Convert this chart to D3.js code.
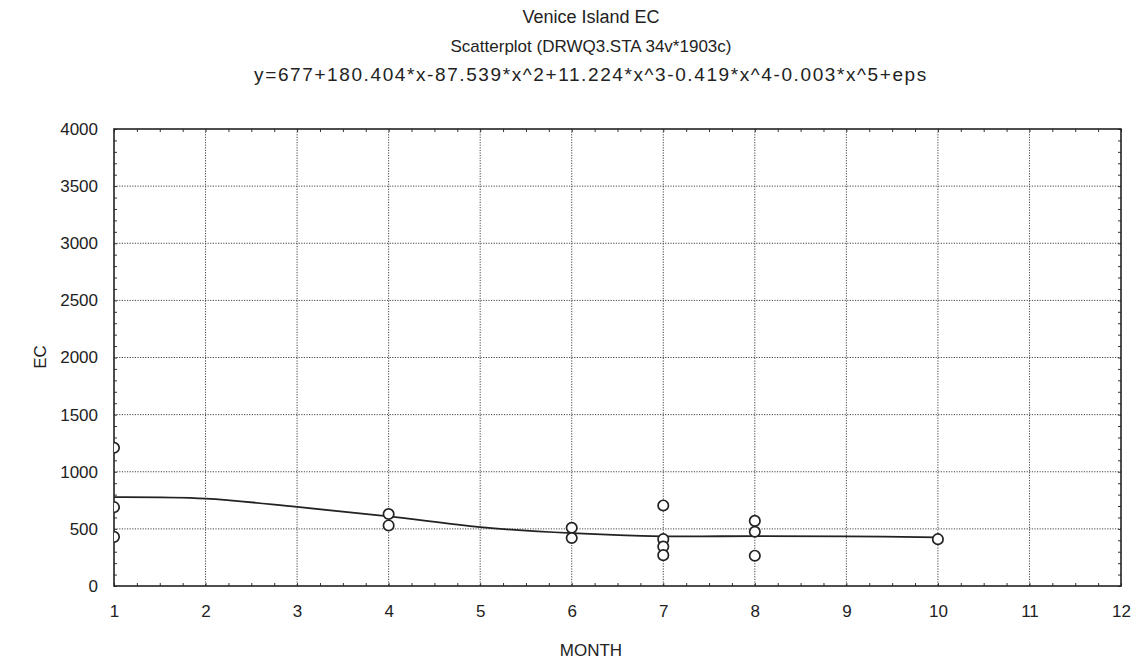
<!DOCTYPE html>
<html><head><meta charset="utf-8">
<script src="https://cdn.jsdelivr.net/npm/d3@7"></script>
<style>body{margin:0;background:#fff}svg{display:block}text{font-family:"Liberation Sans",Arial,sans-serif;fill:#222}</style>
</head><body>
<script>
const titles = ["Venice Island EC","Scatterplot (DRWQ3.STA 34v*1903c)","y=677+180.404*x-87.539*x^2+11.224*x^3-0.419*x^4-0.003*x^5+eps"];
const xTicks = [1,2,3,4,5,6,7,8,9,10,11,12];
const yTicks = [0,500,1000,1500,2000,2500,3000,3500,4000];
const pointMonth = [1,1,1,4,4,6,6,7,7,7,7,8,8,8,10];
const pointEC =    [1210,690,430,630,530,510,420,705,410,345,270,570,475,265,410];
const fitMonth = [1,2,3,4,5,6,7,8,9,10];
const fitEC =    [778,765,692,610,515,462,435,437,435,425];

const W=1141,H=672, L=114, R=1121, T=129, B=586;
const svg=d3.select("body").append("svg").attr("width",W).attr("height",H);
const x=d3.scaleLinear().domain([1,12]).range([L,R]);
const y=d3.scaleLinear().domain([0,4000]).range([B,T]);

// titles
const ty=[23,52,81], tsz=[18,17,19], tls=[0,0,1.6];
titles.forEach((t,i)=>svg.append("text").attr("x",591).attr("y",ty[i]).attr("text-anchor","middle")
  .style("font-size",tsz[i]+"px").style("letter-spacing",tls[i]+"px").text(t));

// grid
const g=svg.append("g");
g.selectAll(".gx").data(xTicks.slice(1,-1)).join("line").attr("x1",d=>x(d)).attr("x2",d=>x(d)).attr("y1",T).attr("y2",B)
 .attr("stroke","#444").attr("stroke-width",1).attr("stroke-dasharray","1.2,1.4");
g.selectAll(".gy").data(yTicks.slice(1,-1)).join("line").attr("y1",d=>y(d)).attr("y2",d=>y(d)).attr("x1",L).attr("x2",R)
 .attr("stroke","#444").attr("stroke-width",1).attr("stroke-dasharray","1.2,1.4");

// axes minor ticks (inward)
const minorX=d3.range(1,12.001,0.25), minorY=d3.range(0,4001,100);
const tickStyle=a=>{a.select(".domain").remove();a.selectAll("line").attr("stroke","#333");};
svg.append("g").attr("transform",`translate(0,${B})`).call(d3.axisBottom(x).tickValues(minorX).tickSize(-3).tickFormat("")).call(tickStyle);
svg.append("g").attr("transform",`translate(0,${T})`).call(d3.axisTop(x).tickValues(minorX).tickSize(-3).tickFormat("")).call(tickStyle);
svg.append("g").attr("transform",`translate(${L},0)`).call(d3.axisLeft(y).tickValues(minorY).tickSize(-3).tickFormat("")).call(tickStyle);
svg.append("g").attr("transform",`translate(${R},0)`).call(d3.axisRight(y).tickValues(minorY).tickSize(-3).tickFormat("")).call(tickStyle);
// major labels
const xa=svg.append("g").attr("transform",`translate(0,${B})`).call(d3.axisBottom(x).tickValues(xTicks).tickSize(0).tickPadding(19).tickFormat(d3.format("d")));
xa.select(".domain").remove(); xa.selectAll("text").style("font-size","17px").attr("fill","#222").style("font-family","Liberation Sans, Arial");
const ya=svg.append("g").attr("transform",`translate(${L},0)`).call(d3.axisLeft(y).tickValues(yTicks).tickSize(0).tickPadding(16).tickFormat(d3.format("d")));
ya.select(".domain").remove(); ya.selectAll("text").style("font-size","17px").attr("fill","#222").style("font-family","Liberation Sans, Arial");
svg.append("rect").attr("x",L).attr("y",T).attr("width",R-L).attr("height",B-T).attr("fill","none").attr("stroke","#222").attr("stroke-width",1.6);

// axis titles
svg.append("text").attr("x",591).attr("y",656).attr("text-anchor","middle").style("font-size","17px").text("MONTH");
svg.append("text").attr("transform",`translate(46,357) rotate(-90)`).attr("text-anchor","middle").style("font-size","17px").text("EC");

// clip
svg.append("clipPath").attr("id","clip").append("rect").attr("x",L).attr("y",T).attr("width",R-L).attr("height",B-T);
const pg=svg.append("g").attr("clip-path","url(#clip)");
const line=d3.line().x((d,i)=>x(fitMonth[i])).y((d,i)=>y(fitEC[i])).curve(d3.curveCatmullRom);
pg.append("path").attr("d",line(fitMonth)).attr("fill","none").attr("stroke","#222").attr("stroke-width",1.8);
pg.selectAll("circle").data(pointMonth).join("circle").attr("cx",(d,i)=>x(d)).attr("cy",(d,i)=>y(pointEC[i])).attr("r",5.2)
  .attr("fill","#fff").attr("stroke","#222").attr("stroke-width",1.7);
</script>
</body></html>
